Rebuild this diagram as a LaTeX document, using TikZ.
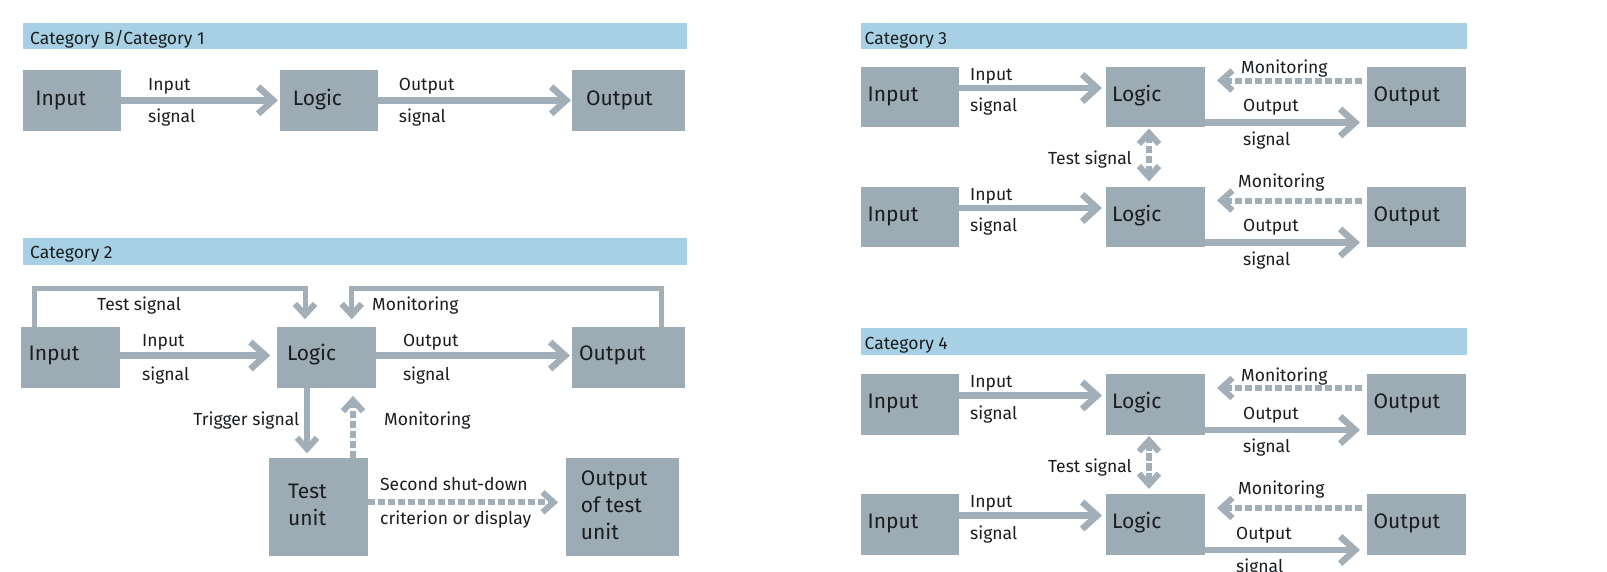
\documentclass[tikz,border=0pt]{standalone}
\usepackage{fontspec}
\setmainfont{Fira Sans}
\usetikzlibrary{arrows.meta,calc}

\definecolor{boxgrey}{HTML}{9DABB5}
\definecolor{linegrey}{HTML}{A2AFB9}
\definecolor{barblue}{HTML}{A8D0E4}
\definecolor{ink}{HTML}{1A1D20}

\newcommand\blkfont{\fontsize{21}{27.3}\selectfont}
\newcommand\lblfont{\fontsize{17.5}{21}\selectfont}
\newcommand\hdrfont{\fontsize{17.5}{21}\selectfont}

\begin{document}
\begin{tikzpicture}[x=1pt,y=-1pt,
  bar/.style={fill=barblue, inner sep=0pt, outer sep=0pt, anchor=north west, minimum height=26pt},
  blk/.style={fill=boxgrey, inner sep=0pt, outer sep=0pt, anchor=north west, minimum height=60.5pt},
  blktext/.style={anchor=base west, inner sep=0pt, font=\blkfont, text=ink},
  blkpara/.style={anchor=north west, inner sep=0pt, font=\blkfont, text=ink, align=left},
  lbl/.style={anchor=base west, inner sep=0pt, font=\lblfont, text=ink},
  hdr/.style={anchor=base west, inner sep=0pt, font=\hdrfont, text=ink},
  chev/.tip={Straight Barb[length=15pt, width=27pt, line width=6.5pt]},
  chevs/.tip={Straight Barb[length=11pt, width=20pt, line width=6pt]},
  sig/.style={draw=linegrey, line width=6.5pt, -chev},
  sigs/.style={draw=linegrey, line width=6pt, -chevs},
  mon/.style={sigs, dash pattern=on 7.5pt off 2.5pt},
  loopline/.style={sigs, line width=5pt},
]
\path[use as bounding box, fill=white] (0,0) rectangle (1607,571);

% ---------------- Category B / Category 1 ----------------
\node[bar, minimum width=664.5pt] (hB) at (22.5,22.5) {};
\node[hdr] (hB-t) at (30,44) {Category B/Category 1};

\node[blk, minimum width=98pt] (inB) at (22.7,70) {};
\node[blk, minimum width=98.2pt] (lgB) at (280,70) {};
\node[blk, minimum width=112.7pt] (outB) at (572,70) {};
\node[blktext] (inB-t) at (35.2,105) {Input};
\node[blktext] (lgB-t) at (292.7,105) {Logic};
\node[blktext] (outB-t) at (586,105) {Output};

\draw[sig, shorten >=2pt] (inB) -- (lgB);
\draw[sig, shorten >=1pt] (lgB) -- (outB);
\node[lbl] (iiB) at (148,90) {Input};
\node[lbl] (isB) at (148,122.7) {signal};
\node[lbl] (ooB) at (398.7,90) {Output};
\node[lbl] (osB) at (398.7,122.7) {signal};

% ---------------- Category 2 ----------------
\node[bar, minimum width=664.5pt, minimum height=26.5pt] (h2) at (22.5,238) {};
\node[hdr] (h2-t) at (30,258.5) {Category 2};

\node[blk, minimum width=99pt] (in2) at (21,327.3) {};
\node[blk, minimum width=98.7pt] (lg2) at (277.3,327.3) {};
\node[blk, minimum width=113pt] (out2) at (572,327.3) {};
\node[blk, minimum width=98.7pt, minimum height=97.7pt] (tu) at (269,458.3) {};
\node[blk, minimum width=113.3pt, minimum height=97.7pt] (otu) at (566,458.3) {};
\node[blktext] (in2-t) at (28.5,360) {Input};
\node[blktext] (lg2-t) at (286.8,360) {Logic};
\node[blktext] (out2-t) at (579,360) {Output};
\node[blkpara] (tu-t) at (288,483.5) {Test\\unit};
\node[blkpara] (otu-t) at (580.7,470.3) {Output\\of test\\unit};

% main signal path
\coordinate (a2y) at (0,355.5);
\draw[sig, shorten >=7pt] (in2.east |- a2y) -- (lg2.west |- a2y);
\draw[sig, shorten >=2pt] (lg2.east |- a2y) -- (out2.west |- a2y);
\node[lbl] (ii2) at (142,346) {Input};
\node[lbl] (is2) at (142,380) {signal};
\node[lbl] (oo2) at (402.8,346) {Output};
\node[lbl] (os2) at (402.8,380) {signal};

% test signal and monitoring loops over the top
\coordinate (tsA) at (34.3,288);
\coordinate (tsB) at (305,288);
\draw[loopline, shorten >=8pt] (in2.north -| tsA) -- (tsA) -- (tsB) -- (lg2.north -| tsB);
\coordinate (mnA) at (661,288);
\coordinate (mnB) at (351.7,288);
\draw[loopline, shorten >=8pt] (out2.north -| mnA) -- (mnA) -- (mnB) -- (lg2.north -| mnB);
\node[lbl] (ts2) at (97,310.7) {Test signal};
\node[lbl] (mn2) at (372,310.7) {Monitoring};

% test unit links
\coordinate (trX) at (307,0);
\draw[sigs, shorten >=5pt] (lg2.south -| trX) -- (tu.north -| trX);
\coordinate (muX) at (353,0);
\draw[mon, shorten >=8pt] (tu.north -| muX) -- (lg2.south -| muX);
\coordinate (sdY) at (0,502.3);
\draw[mon, shorten >=8pt] (tu.east |- sdY) -- (otu.west |- sdY);
\node[lbl, anchor=base east] (tr2) at (299.5,425) {Trigger signal};
\node[lbl] (mu2) at (384,425.5) {Monitoring};
\node[lbl] (sd2a) at (380,490.7) {Second shut-down};
\node[lbl] (sd2b) at (380,524) {criterion or display};

% ---------------- Categories 3 and 4 ----------------
\node[bar, minimum width=606pt] (h3) at (861,22.5) {};
\node[hdr] (h3-t) at (864.5,44) {Category 3};
\node[bar, minimum width=606pt, minimum height=27pt] (h4) at (861,328) {};
\node[hdr] (h4-t) at (864.5,349) {Category 4};

% two redundant channels per category
\foreach \r/\ro/\my/\mx/\ox in {a/66.5/7/1241/1243, b/186.5/0.5/1238/1243,
                                c/374/7/1241/1243,  d/494/0.5/1238/1236}{
  \node[blk, minimum width=98pt] (in\r) at (861,\ro) {};
  \node[blk, minimum width=98.5pt] (lg\r) at (1106,\ro) {};
  \node[blk, minimum width=99pt] (out\r) at (1367,\ro) {};
  \node[blktext] (in\r-t) at (867.5,\ro+34.5) {Input};
  \node[blktext] (lg\r-t) at (1112,\ro+34.5) {Logic};
  \node[blktext] (out\r-t) at (1373.5,\ro+34.5) {Output};
  \draw[sig, shorten >=4pt] ($(in\r.north east)+(0,21.5)$) -- ($(lg\r.north west)+(0,21.5)$);
  \draw[mon, shorten <=5pt, shorten >=12.5pt] ($(out\r.north west)+(0,14)$) -- ($(lg\r.north east)+(0,14)$);
  \draw[sig, shorten >=7pt] ($(lg\r.north east)+(0,56)$) -- ($(out\r.north west)+(0,56)$);
  \node[lbl] (ii\r) at (970,\ro+13.5) {Input};
  \node[lbl] (is\r) at (970,\ro+45) {signal};
  \node[lbl] (mm\r) at (\mx,\ro+\my) {Monitoring};
  \node[lbl] (oo\r) at (\ox,\ro+45) {Output};
  \node[lbl] (os\r) at (\ox,\ro+78.5) {signal};
}

% cross-channel test signal
\coordinate (tx) at (1149,0);
\draw[mon, chevs-chevs, shorten <=1.5pt, shorten >=5pt] (lga.south -| tx) -- (lgb.north -| tx);
\node[lbl, anchor=base east] (ts3) at (1132,164.3) {Test signal};
\draw[mon, chevs-chevs, shorten <=1.5pt, shorten >=5pt] (lgc.south -| tx) -- (lgd.north -| tx);
\node[lbl, anchor=base east] (ts4) at (1132,472) {Test signal};
\end{tikzpicture}
\end{document}
